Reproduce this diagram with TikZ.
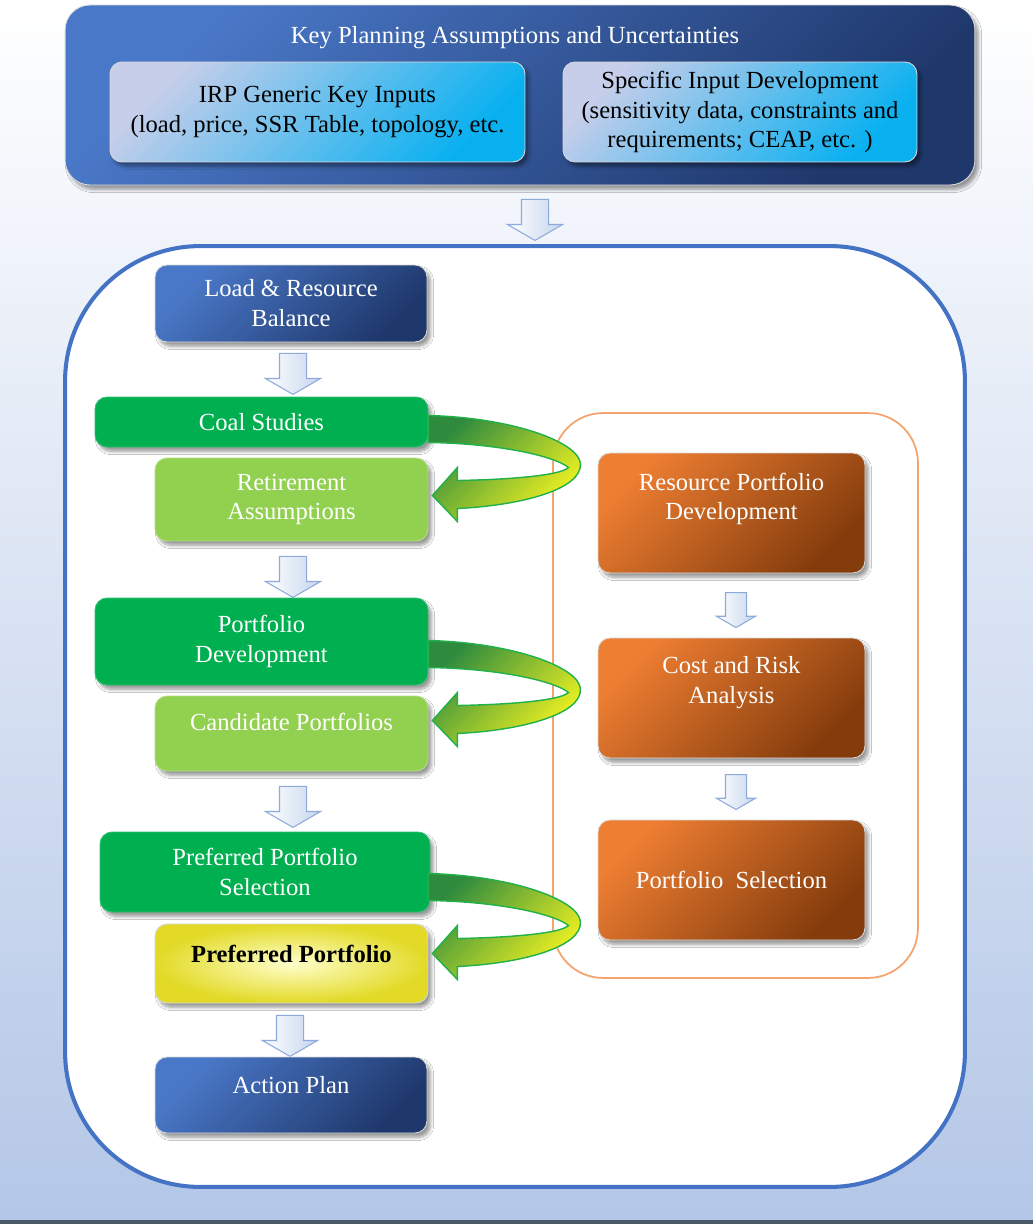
\documentclass[tikz,border=0pt]{standalone}
\usepackage{fontspec}
\setmainfont{Liberation Serif}
\usetikzlibrary{positioning,calc,shapes.arrows,shadows.blur}
\definecolor{bgblue}{HTML}{B4C7E7}
\definecolor{navyA}{HTML}{4A78C8}
\definecolor{navyB}{HTML}{1F386C}
\definecolor{skyA}{HTML}{C6CEEA}
\definecolor{skyB}{HTML}{08B0F0}
\definecolor{leaf}{HTML}{00B050}
\definecolor{lime}{HTML}{92D050}
\definecolor{rustA}{HTML}{EE7E32}
\definecolor{rustB}{HTML}{843C0C}
\definecolor{peach}{HTML}{F4A46E}
\definecolor{frameblue}{HTML}{4472C4}
\definecolor{swgreen}{HTML}{2E8B3E}
\definecolor{swyellow}{HTML}{F5F520}
\definecolor{swline}{HTML}{22B04A}
\definecolor{pfyellow}{HTML}{E2DA26}
\definecolor{arrowline}{HTML}{8EAADB}
\definecolor{arrowfill}{HTML}{C5D5EE}
\definecolor{edge}{HTML}{4A5868}

\tikzset{swirl/.pic={
  \draw[swline,line width=0.8pt,top color=swgreen,bottom color=swyellow,shading angle=45]
    (-4,-80) .. controls (78,-78) and (146,-54) .. (148,-32)
    .. controls (150,-6) and (88,10) .. (25,13)
    -- (25,26) -- (0,0) -- (25,-28) -- (25,-15)
    .. controls (78,-16) and (128,-20) .. (136,-28)
    .. controls (123,-39) and (68,-52) .. (-4,-53) -- cycle;
}}

\begin{document}
\begin{tikzpicture}[x=0.02cm,y=-0.02cm,
  box/.style={rounded corners=0.24cm,draw=white!85!black,line width=0.5pt,align=center,
    font=\fontsize{14}{17}\selectfont,text=white,inner sep=2pt,
    blur shadow={shadow xshift=2pt,shadow yshift=-2.5pt,shadow opacity=40,shadow blur steps=6}},
  navy/.style={box,top color=navyA,bottom color=navyB,shading angle=45},
  sky/.style={box,top color=skyA,bottom color=skyB,shading angle=45,text=black},
  leafbox/.style={box,fill=leaf,draw=leaf!80!white},
  limebox/.style={box,fill=lime,draw=lime!70!white},
  rust/.style={box,top color=rustA,bottom color=rustB,shading angle=45,
    minimum width=5.34cm,minimum height=2.4cm},
  label/.style={align=center,font=\fontsize{14}{17}\selectfont,text=white},
  bigarrow/.style={single arrow,rotate=-90,draw=arrowline,line width=0.6pt,
    left color=white,right color=arrowfill,inner xsep=0pt,inner ysep=0.26cm,
    single arrow tip angle=120,single arrow head extend=0.28cm,minimum height=0.82cm},
  smallarrow/.style={bigarrow,inner ysep=0.2cm,single arrow head extend=0.18cm,
    minimum height=0.7cm}]

  \useasboundingbox (0,0) rectangle (1033,1224);
  \fill[top color=white,bottom color=bgblue] (0,0) rectangle (1033,1220);
  \fill[edge] (0,1220) rectangle (1033,1224);

  % inputs
  \node[navy,minimum width=18.2cm,minimum height=3.6cm,rounded corners=0.5cm] (plan) at (520,95) {};
  \node[label] (title) at (515,38) {Key Planning Assumptions and Uncertainties};
  \node[sky,minimum width=8.3cm,minimum height=2cm] (irp) at (317.5,112)
    {IRP Generic Key Inputs\\(load, price, SSR Table, topology, etc.};
  \node[sky,minimum width=7.08cm,minimum height=2cm] (spec) at (740,112)
    {Specific Input Development\\(sensitivity data, constraints and\\requirements; CEAP, etc. )};

  \node[bigarrow] (a0) at (535,216) {};

  % process frame
  \node[draw=frameblue,line width=2.3pt,fill=white,rounded corners=2.7cm,
    minimum width=18cm,minimum height=18.82cm] (frame) at (515,716.5) {};
  \node[draw=peach,line width=1pt,rounded corners=1cm,
    minimum width=7.3cm,minimum height=11.3cm] (study) at (735.5,695.5) {};

  % left column
  \node[navy,minimum width=5.44cm,minimum height=1.54cm] (lrb) at (291,303.5) {Load \& Resource\\Balance};
  \node[bigarrow] (a1) at (293,370) {};
  \node[leafbox,minimum width=6.66cm,minimum height=1cm] (coal) at (261.5,422) {Coal Studies};
  \node[limebox,minimum width=5.46cm,minimum height=1.66cm] (ret) at (291.5,499.5) {Retirement\\Assumptions};
  \node[bigarrow] (a2) at (293,573) {};
  \node[leafbox,minimum width=6.66cm,minimum height=1.74cm] (pdev) at (261.5,641.5) {Portfolio\\Development};
  \node[limebox,minimum width=5.46cm,minimum height=1.5cm,text depth=0.46cm] (cand) at (291.5,733.5) {Candidate Portfolios};
  \node[bigarrow] (a3) at (293,803) {};
  \node[leafbox,minimum width=6.6cm,minimum height=1.6cm] (pps) at (265,872) {Preferred Portfolio\\Selection};
  \node[box,shading=radial,inner color=white!80!yellow,outer color=pfyellow,text=black,
    font=\fontsize{14}{17}\selectfont\bfseries,
    minimum width=5.46cm,minimum height=1.58cm,text depth=0.4cm] (pref) at (291.5,963.5) {Preferred Portfolio};
  \node[bigarrow] (a4) at (290,1032) {};
  \node[navy,minimum width=5.44cm,minimum height=1.52cm,text depth=0.4cm] (action) at (291,1095) {Action Plan};

  % right column
  \node[rust] (rpd) at (731.5,513) {};
  \node[label] (rpdtext) at (731.5,499) {Resource Portfolio\\Development};
  \node[smallarrow] (b1) at (736,607) {};
  \node[rust] (cra) at (731.5,698) {};
  \node[label] (cratext) at (731.5,683) {Cost and Risk\\Analysis};
  \node[smallarrow] (b2) at (736,789) {};
  \node[rust] (psel) at (731.5,880) {Portfolio\enspace Selection};

  % feedback swirls
  \pic at ($(ret.east)+(4,-4)$) {swirl};
  \pic at ($(cand.east)+(4,-13)$) {swirl};
  \pic at ($(pref.east)+(4,-10)$) {swirl};
\end{tikzpicture}
\end{document}
